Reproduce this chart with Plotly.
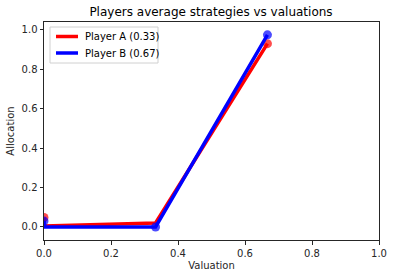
import plotly.graph_objects as go

# data
x_a = [0.0, 0.0, 0.333, 0.667]
y_a = [0.048, 0.005, 0.02, 0.93]
x_b = [0.0, 0.0, 0.333, 0.667]
y_b = [0.03, 0.0, 0.0, 0.975]
name_a = "Player A (0.33)"
name_b = "Player B (0.67)"
tick_vals = [0.0, 0.2, 0.4, 0.6, 0.8, 1.0]
tick_text = ["0.0", "0.2", "0.4", "0.6", "0.8", "1.0"]

RED = "#ff0000"
BLUE = "#0000ff"

fig = go.Figure()
fig.add_trace(go.Scatter(x=x_a, y=y_a, mode="lines+markers", showlegend=False,
                         line=dict(color=RED, width=3.5),
                         marker=dict(color=RED, size=[9, 0, 0, 9], line=dict(width=0))))
fig.add_trace(go.Scatter(x=x_b, y=y_b, mode="lines+markers", showlegend=False,
                         line=dict(color=BLUE, width=3.5),
                         marker=dict(color=BLUE, size=[9, 0, 9, 9], line=dict(width=0))))

axis_common = dict(showgrid=False, zeroline=False, showline=True, linecolor="#262626",
                   linewidth=1, mirror=True, ticks="outside", ticklen=3.5,
                   tickcolor="#262626", tickfont=dict(size=10, color="#262626"),
                   tickvals=tick_vals, ticktext=tick_text, automargin=False)

# manual legend (matplotlib-style)
L = 44; R = 379; T = 22; B = 240
W = 394; H = 278
def px(xp): return (xp - L) / (R - L)
def py(yp): return (B - yp) / (B - T)

shapes = [
    dict(type="rect", xref="paper", yref="paper", x0=px(50), x1=px(158), y0=py(63), y1=py(27),
         line=dict(color="#d0d0d0", width=1), fillcolor="rgba(255,255,255,0.8)", layer="above"),
    dict(type="line", xref="paper", yref="paper", x0=px(56), x1=px(78), y0=py(36.5), y1=py(36.5),
         line=dict(color=RED, width=3.5), layer="above"),
    dict(type="line", xref="paper", yref="paper", x0=px(56), x1=px(78), y0=py(53), y1=py(53),
         line=dict(color=BLUE, width=3.5), layer="above"),
]
annotations = [
    dict(xref="paper", yref="paper", x=px(83), y=py(36.5), text=name_a, showarrow=False,
         xanchor="left", yanchor="middle", font=dict(size=10, color="black")),
    dict(xref="paper", yref="paper", x=px(83), y=py(53), text=name_b, showarrow=False,
         xanchor="left", yanchor="middle", font=dict(size=10, color="black")),
]

fig.update_layout(
    width=W, height=H,
    paper_bgcolor="white", plot_bgcolor="white",
    font=dict(family="DejaVu Sans", size=10, color="#262626"),
    margin=dict(l=L, r=W - R, t=T, b=H - B),
    showlegend=False,
    title=dict(text="Players average strategies vs valuations", x=px(211), xref="paper",
               xanchor="center", y=1 - 12 / H, yanchor="middle",
               font=dict(size=12, color="black")),
    xaxis=dict(range=[0, 1], title=dict(text="Valuation", font=dict(size=10), standoff=4),
               **axis_common),
    yaxis=dict(range=[-0.066, 1.04], title=dict(text="Allocation", font=dict(size=10), standoff=5),
               **axis_common),
    shapes=shapes, annotations=annotations,
)

fig.write_html("out.html", config={"displayModeBar": False},
               post_script="document.body.style.margin='0';")
